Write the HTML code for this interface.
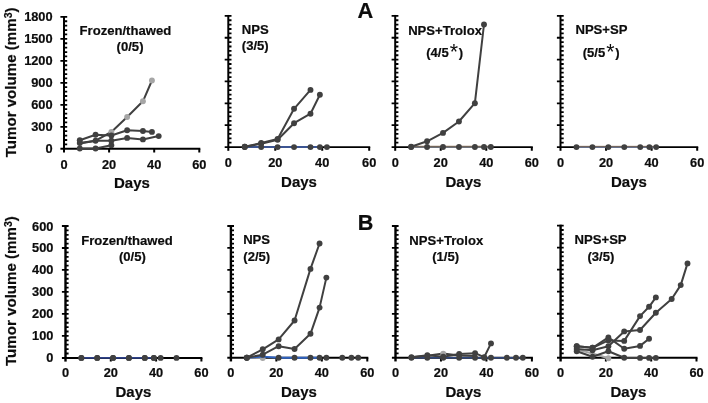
<!DOCTYPE html>
<html lang="en">
<head>
<meta charset="utf-8">
<title>Tumor volume figure</title>
<style>
html,body{margin:0;padding:0;background:#fff;}
body{width:708px;height:403px;overflow:hidden;}
svg{display:block;}
svg text{font-family:"Liberation Sans",Arial,Helvetica,sans-serif;font-weight:bold;fill:#0c0c0c;stroke:#0c0c0c;stroke-width:0.2px;}
</style>
</head>
<body>
<svg width="708" height="403" viewBox="0 0 708 403">
<rect width="708" height="403" fill="#fff"/>
<line x1="64" y1="15.95" x2="64" y2="152.5" stroke="#000" stroke-width="2.0"/>
<line x1="60.4" y1="148.8" x2="200.3" y2="148.8" stroke="#000" stroke-width="1.9"/>
<path d="M60.4 16.85H67.2M64 21.25H67.2M64 25.65H67.2M64 30.05H67.2M64 34.44H67.2M60.4 38.84H67.2M64 43.24H67.2M64 47.64H67.2M64 52.04H67.2M64 56.44H67.2M60.4 60.83H67.2M64 65.23H67.2M64 69.63H67.2M64 74.03H67.2M64 78.43H67.2M60.4 82.83H67.2M64 87.22H67.2M64 91.62H67.2M64 96.02H67.2M64 100.42H67.2M60.4 104.82H67.2M64 109.22H67.2M64 113.61H67.2M64 118.01H67.2M64 122.41H67.2M60.4 126.81H67.2M64 131.21H67.2M64 135.61H67.2M64 140H67.2M64 144.4H67.2" stroke="#000" stroke-width="1.8" fill="none"/>
<path d="M109.1 148.8V152.5M154.2 148.8V152.5M199.3 148.8V152.5" stroke="#000" stroke-width="2" fill="none"/>
<line x1="228.3" y1="14.95" x2="228.3" y2="150.8" stroke="#000" stroke-width="2.0"/>
<line x1="224.7" y1="147.1" x2="370.2" y2="147.1" stroke="#000" stroke-width="1.9"/>
<path d="M224.7 15.85H231.5M228.3 20.23H231.5M228.3 24.6H231.5M228.3 28.98H231.5M228.3 33.35H231.5M224.7 37.73H231.5M228.3 42.1H231.5M228.3 46.48H231.5M228.3 50.85H231.5M228.3 55.23H231.5M224.7 59.6H231.5M228.3 63.98H231.5M228.3 68.35H231.5M228.3 72.72H231.5M228.3 77.1H231.5M224.7 81.47H231.5M228.3 85.85H231.5M228.3 90.22H231.5M228.3 94.6H231.5M228.3 98.97H231.5M224.7 103.35H231.5M228.3 107.72H231.5M228.3 112.1H231.5M228.3 116.47H231.5M228.3 120.85H231.5M224.7 125.22H231.5M228.3 129.6H231.5M228.3 133.97H231.5M228.3 138.35H231.5M228.3 142.72H231.5" stroke="#000" stroke-width="1.8" fill="none"/>
<path d="M275.27 147.1V150.8M322.23 147.1V150.8M369.2 147.1V150.8" stroke="#000" stroke-width="2" fill="none"/>
<line x1="395.2" y1="14.95" x2="395.2" y2="150.8" stroke="#000" stroke-width="2.0"/>
<line x1="391.6" y1="147.1" x2="532.8" y2="147.1" stroke="#000" stroke-width="1.9"/>
<path d="M391.6 15.85H398.4M395.2 20.23H398.4M395.2 24.6H398.4M395.2 28.98H398.4M395.2 33.35H398.4M391.6 37.73H398.4M395.2 42.1H398.4M395.2 46.48H398.4M395.2 50.85H398.4M395.2 55.23H398.4M391.6 59.6H398.4M395.2 63.98H398.4M395.2 68.35H398.4M395.2 72.72H398.4M395.2 77.1H398.4M391.6 81.47H398.4M395.2 85.85H398.4M395.2 90.22H398.4M395.2 94.6H398.4M395.2 98.97H398.4M391.6 103.35H398.4M395.2 107.72H398.4M395.2 112.1H398.4M395.2 116.47H398.4M395.2 120.85H398.4M391.6 125.22H398.4M395.2 129.6H398.4M395.2 133.97H398.4M395.2 138.35H398.4M395.2 142.72H398.4" stroke="#000" stroke-width="1.8" fill="none"/>
<path d="M440.73 147.1V150.8M486.27 147.1V150.8M531.8 147.1V150.8" stroke="#000" stroke-width="2" fill="none"/>
<line x1="560.5" y1="14.95" x2="560.5" y2="150.8" stroke="#000" stroke-width="2.0"/>
<line x1="556.9" y1="147.1" x2="698.2" y2="147.1" stroke="#000" stroke-width="1.9"/>
<path d="M556.9 15.85H563.7M560.5 20.23H563.7M560.5 24.6H563.7M560.5 28.98H563.7M560.5 33.35H563.7M556.9 37.73H563.7M560.5 42.1H563.7M560.5 46.48H563.7M560.5 50.85H563.7M560.5 55.23H563.7M556.9 59.6H563.7M560.5 63.98H563.7M560.5 68.35H563.7M560.5 72.72H563.7M560.5 77.1H563.7M556.9 81.47H563.7M560.5 85.85H563.7M560.5 90.22H563.7M560.5 94.6H563.7M560.5 98.97H563.7M556.9 103.35H563.7M560.5 107.72H563.7M560.5 112.1H563.7M560.5 116.47H563.7M560.5 120.85H563.7M556.9 125.22H563.7M560.5 129.6H563.7M560.5 133.97H563.7M560.5 138.35H563.7M560.5 142.72H563.7" stroke="#000" stroke-width="1.8" fill="none"/>
<path d="M606.07 147.1V150.8M651.63 147.1V150.8M697.2 147.1V150.8" stroke="#000" stroke-width="2" fill="none"/>
<line x1="65.5" y1="225.1" x2="65.5" y2="361.6" stroke="#000" stroke-width="2.4"/>
<line x1="61.9" y1="357.9" x2="202.4" y2="357.9" stroke="#000" stroke-width="2.0"/>
<path d="M61.9 226H68.6M65.5 230.4H68.6M65.5 234.79H68.6M65.5 239.19H68.6M65.5 243.59H68.6M61.9 247.98H68.6M65.5 252.38H68.6M65.5 256.78H68.6M65.5 261.17H68.6M65.5 265.57H68.6M61.9 269.97H68.6M65.5 274.36H68.6M65.5 278.76H68.6M65.5 283.16H68.6M65.5 287.55H68.6M61.9 291.95H68.6M65.5 296.35H68.6M65.5 300.74H68.6M65.5 305.14H68.6M65.5 309.54H68.6M61.9 313.93H68.6M65.5 318.33H68.6M65.5 322.73H68.6M65.5 327.12H68.6M65.5 331.52H68.6M61.9 335.92H68.6M65.5 340.31H68.6M65.5 344.71H68.6M65.5 349.11H68.6M65.5 353.5H68.6" stroke="#000" stroke-width="1.8" fill="none"/>
<path d="M110.8 357.9V361.6M156.1 357.9V361.6M201.4 357.9V361.6" stroke="#000" stroke-width="2" fill="none"/>
<line x1="230.9" y1="225.1" x2="230.9" y2="361.45" stroke="#000" stroke-width="2.4"/>
<line x1="227.3" y1="357.75" x2="368.3" y2="357.75" stroke="#000" stroke-width="2.0"/>
<path d="M227.3 226H234M230.9 230.39H234M230.9 234.78H234M230.9 239.18H234M230.9 243.57H234M227.3 247.96H234M230.9 252.35H234M230.9 256.74H234M230.9 261.13H234M230.9 265.53H234M227.3 269.92H234M230.9 274.31H234M230.9 278.7H234M230.9 283.09H234M230.9 287.48H234M227.3 291.88H234M230.9 296.27H234M230.9 300.66H234M230.9 305.05H234M230.9 309.44H234M227.3 313.83H234M230.9 318.22H234M230.9 322.62H234M230.9 327.01H234M230.9 331.4H234M227.3 335.79H234M230.9 340.18H234M230.9 344.58H234M230.9 348.97H234M230.9 353.36H234" stroke="#000" stroke-width="1.8" fill="none"/>
<path d="M276.37 357.75V361.45M321.83 357.75V361.45M367.3 357.75V361.45" stroke="#000" stroke-width="2" fill="none"/>
<line x1="395.5" y1="225.1" x2="395.5" y2="361.45" stroke="#000" stroke-width="2.4"/>
<line x1="391.9" y1="357.75" x2="532.9" y2="357.75" stroke="#000" stroke-width="2.0"/>
<path d="M391.9 226H398.6M395.5 230.39H398.6M395.5 234.78H398.6M395.5 239.18H398.6M395.5 243.57H398.6M391.9 247.96H398.6M395.5 252.35H398.6M395.5 256.74H398.6M395.5 261.13H398.6M395.5 265.53H398.6M391.9 269.92H398.6M395.5 274.31H398.6M395.5 278.7H398.6M395.5 283.09H398.6M395.5 287.48H398.6M391.9 291.88H398.6M395.5 296.27H398.6M395.5 300.66H398.6M395.5 305.05H398.6M395.5 309.44H398.6M391.9 313.83H398.6M395.5 318.22H398.6M395.5 322.62H398.6M395.5 327.01H398.6M395.5 331.4H398.6M391.9 335.79H398.6M395.5 340.18H398.6M395.5 344.58H398.6M395.5 348.97H398.6M395.5 353.36H398.6" stroke="#000" stroke-width="1.8" fill="none"/>
<path d="M440.97 357.75V361.45M486.43 357.75V361.45M531.9 357.75V361.45" stroke="#000" stroke-width="2" fill="none"/>
<line x1="560.6" y1="224.7" x2="560.6" y2="361.5" stroke="#000" stroke-width="2.4"/>
<line x1="557" y1="357.8" x2="697.5" y2="357.8" stroke="#000" stroke-width="2.0"/>
<path d="M557 225.6H563.7M560.6 230.01H563.7M560.6 234.41H563.7M560.6 238.82H563.7M560.6 243.23H563.7M557 247.63H563.7M560.6 252.04H563.7M560.6 256.45H563.7M560.6 260.85H563.7M560.6 265.26H563.7M557 269.67H563.7M560.6 274.07H563.7M560.6 278.48H563.7M560.6 282.89H563.7M560.6 287.29H563.7M557 291.7H563.7M560.6 296.11H563.7M560.6 300.51H563.7M560.6 304.92H563.7M560.6 309.33H563.7M557 313.73H563.7M560.6 318.14H563.7M560.6 322.55H563.7M560.6 326.95H563.7M560.6 331.36H563.7M557 335.77H563.7M560.6 340.17H563.7M560.6 344.58H563.7M560.6 348.99H563.7M560.6 353.39H563.7" stroke="#000" stroke-width="1.8" fill="none"/>
<path d="M605.9 357.8V361.5M651.2 357.8V361.5M696.5 357.8V361.5" stroke="#000" stroke-width="2" fill="none"/>
<text x="52.6" y="21.45" font-size="12.8" text-anchor="end">1800</text>
<text x="52.6" y="43.44" font-size="12.8" text-anchor="end">1500</text>
<text x="52.6" y="65.43" font-size="12.8" text-anchor="end">1200</text>
<text x="52.6" y="87.43" font-size="12.8" text-anchor="end">900</text>
<text x="52.6" y="109.42" font-size="12.8" text-anchor="end">600</text>
<text x="52.6" y="131.41" font-size="12.8" text-anchor="end">300</text>
<text x="52.6" y="153.4" font-size="12.8" text-anchor="end">0</text>
<text x="53.4" y="230.5" font-size="12.8" text-anchor="end">600</text>
<text x="53.4" y="252.48" font-size="12.8" text-anchor="end">500</text>
<text x="53.4" y="274.47" font-size="12.8" text-anchor="end">400</text>
<text x="53.4" y="296.45" font-size="12.8" text-anchor="end">300</text>
<text x="53.4" y="318.43" font-size="12.8" text-anchor="end">200</text>
<text x="53.4" y="340.42" font-size="12.8" text-anchor="end">100</text>
<text x="53.4" y="362.4" font-size="12.8" text-anchor="end">0</text>
<text x="64" y="168.5" font-size="12.8" text-anchor="middle">0</text>
<text x="109.1" y="168.5" font-size="12.8" text-anchor="middle">20</text>
<text x="154.2" y="168.5" font-size="12.8" text-anchor="middle">40</text>
<text x="199.3" y="168.5" font-size="12.8" text-anchor="middle">60</text>
<text x="228.3" y="166.7" font-size="12.8" text-anchor="middle">0</text>
<text x="275.27" y="166.7" font-size="12.8" text-anchor="middle">20</text>
<text x="322.23" y="166.7" font-size="12.8" text-anchor="middle">40</text>
<text x="369.2" y="166.7" font-size="12.8" text-anchor="middle">60</text>
<text x="395.2" y="166.7" font-size="12.8" text-anchor="middle">0</text>
<text x="440.73" y="166.7" font-size="12.8" text-anchor="middle">20</text>
<text x="486.27" y="166.7" font-size="12.8" text-anchor="middle">40</text>
<text x="531.8" y="166.7" font-size="12.8" text-anchor="middle">60</text>
<text x="560.5" y="166.7" font-size="12.8" text-anchor="middle">0</text>
<text x="606.07" y="166.7" font-size="12.8" text-anchor="middle">20</text>
<text x="651.63" y="166.7" font-size="12.8" text-anchor="middle">40</text>
<text x="697.2" y="166.7" font-size="12.8" text-anchor="middle">60</text>
<text x="65.5" y="377.3" font-size="12.8" text-anchor="middle">0</text>
<text x="110.8" y="377.3" font-size="12.8" text-anchor="middle">20</text>
<text x="156.1" y="377.3" font-size="12.8" text-anchor="middle">40</text>
<text x="201.4" y="377.3" font-size="12.8" text-anchor="middle">60</text>
<text x="230.9" y="377.3" font-size="12.8" text-anchor="middle">0</text>
<text x="276.37" y="377.3" font-size="12.8" text-anchor="middle">20</text>
<text x="321.83" y="377.3" font-size="12.8" text-anchor="middle">40</text>
<text x="367.3" y="377.3" font-size="12.8" text-anchor="middle">60</text>
<text x="395.5" y="377.3" font-size="12.8" text-anchor="middle">0</text>
<text x="440.97" y="377.3" font-size="12.8" text-anchor="middle">20</text>
<text x="486.43" y="377.3" font-size="12.8" text-anchor="middle">40</text>
<text x="531.9" y="377.3" font-size="12.8" text-anchor="middle">60</text>
<text x="560.6" y="377.3" font-size="12.8" text-anchor="middle">0</text>
<text x="605.9" y="377.3" font-size="12.8" text-anchor="middle">20</text>
<text x="651.2" y="377.3" font-size="12.8" text-anchor="middle">40</text>
<text x="696.5" y="377.3" font-size="12.8" text-anchor="middle">60</text>
<text x="131.9" y="188.2" font-size="15" text-anchor="middle">Days</text>
<text x="299" y="187.1" font-size="15" text-anchor="middle">Days</text>
<text x="463.4" y="187.1" font-size="15" text-anchor="middle">Days</text>
<text x="628.9" y="187.1" font-size="15" text-anchor="middle">Days</text>
<text x="133.4" y="397.3" font-size="15" text-anchor="middle">Days</text>
<text x="298.9" y="397.3" font-size="15" text-anchor="middle">Days</text>
<text x="463.4" y="397.3" font-size="15" text-anchor="middle">Days</text>
<text x="628.4" y="397.3" font-size="15" text-anchor="middle">Days</text>
<text transform="translate(15.8,157.3) rotate(-90)" font-size="15.1">Tumor volume (mm<tspan font-size="10.5" dy="-4.2">3</tspan><tspan dy="4.2">)</tspan></text>
<text transform="translate(15.8,366) rotate(-90)" font-size="15.1">Tumor volume (mm<tspan font-size="10.5" dy="-4.2">3</tspan><tspan dy="4.2">)</tspan></text>
<text x="357.5" y="18" font-size="21.8" text-anchor="start" stroke="#111" stroke-width="0.5">A</text>
<text x="357.8" y="229.9" font-size="21.6" text-anchor="start" stroke="#111" stroke-width="0.4">B</text>
<text x="125.4" y="34.8" font-size="13.1" text-anchor="middle">Frozen/thawed</text>
<text x="130.05" y="51.1" font-size="13.1" text-anchor="middle">(0/5)</text>
<text x="255.25" y="33.7" font-size="13.1" text-anchor="middle">NPS</text>
<text x="255.25" y="50.3" font-size="13.1" text-anchor="middle">(3/5)</text>
<text x="445.1" y="34.5" font-size="13.1" text-anchor="middle">NPS+Trolox</text>
<text x="601.45" y="34" font-size="13.1" text-anchor="middle">NPS+SP</text>
<text x="127" y="244.5" font-size="13.1" text-anchor="middle">Frozen/thawed</text>
<text x="132.35" y="260.6" font-size="13.1" text-anchor="middle">(0/5)</text>
<text x="256.6" y="244.2" font-size="13.1" text-anchor="middle">NPS</text>
<text x="256.75" y="260.6" font-size="13.1" text-anchor="middle">(2/5)</text>
<text x="446.25" y="244.5" font-size="13.1" text-anchor="middle">NPS+Trolox</text>
<text x="445.65" y="261.1" font-size="13.1" text-anchor="middle">(1/5)</text>
<text x="600.6" y="244.2" font-size="13.1" text-anchor="middle">NPS+SP</text>
<text x="600.85" y="261.1" font-size="13.1" text-anchor="middle">(3/5)</text>
<text x="426.2" y="56.5" font-size="13.1">(4/5<tspan font-size="21.3" font-weight="normal" stroke="none" dy="2" dx="1.0">*</tspan><tspan dy="-2" dx="0.8">)</tspan></text>
<text x="582.7" y="56.5" font-size="13.1">(5/5<tspan font-size="21.3" font-weight="normal" stroke="none" dy="2" dx="1.0">*</tspan><tspan dy="-2" dx="0.8">)</tspan></text>
<polyline points="79.78,143.5 95.57,140.7 111.36,132 127.14,117 142.93,101.3 151.94,80.5" fill="none" stroke="#404040" stroke-width="2.0" stroke-linejoin="round" stroke-linecap="round"/>
<circle cx="111.36" cy="132" r="2.95" fill="#a6a6a6"/>
<circle cx="127.14" cy="117" r="2.95" fill="#a6a6a6"/>
<circle cx="142.93" cy="101.3" r="2.95" fill="#a6a6a6"/>
<circle cx="151.94" cy="80.5" r="2.95" fill="#a6a6a6"/>
<polyline points="79.78,148.5 95.57,148.5 111.36,145.2" fill="none" stroke="#404040" stroke-width="2.0" stroke-linejoin="round" stroke-linecap="round"/>
<circle cx="79.78" cy="148.5" r="2.95" fill="#404040"/>
<circle cx="95.57" cy="148.5" r="2.95" fill="#404040"/>
<circle cx="111.36" cy="145.2" r="2.95" fill="#404040"/>
<polyline points="79.78,143 95.57,140.7 111.36,140.7 127.14,137.9 142.93,139.4 158.71,136.1" fill="none" stroke="#404040" stroke-width="2.0" stroke-linejoin="round" stroke-linecap="round"/>
<circle cx="79.78" cy="143" r="2.95" fill="#404040"/>
<circle cx="95.57" cy="140.7" r="2.95" fill="#404040"/>
<circle cx="111.36" cy="140.7" r="2.95" fill="#404040"/>
<circle cx="127.14" cy="137.9" r="2.95" fill="#404040"/>
<circle cx="142.93" cy="139.4" r="2.95" fill="#404040"/>
<circle cx="158.71" cy="136.1" r="2.95" fill="#404040"/>
<polyline points="79.78,140.2 95.57,134.8 111.36,135.5 127.14,130.3 142.93,131 151.94,131.9" fill="none" stroke="#404040" stroke-width="2.0" stroke-linejoin="round" stroke-linecap="round"/>
<circle cx="79.78" cy="140.2" r="2.95" fill="#404040"/>
<circle cx="95.57" cy="134.8" r="2.95" fill="#404040"/>
<circle cx="111.36" cy="135.5" r="2.95" fill="#404040"/>
<circle cx="127.14" cy="130.3" r="2.95" fill="#404040"/>
<circle cx="142.93" cy="131" r="2.95" fill="#404040"/>
<circle cx="151.94" cy="131.9" r="2.95" fill="#404040"/>
<polyline points="244.74,147.1 261.18,147.1 277.62,147.1 294.05,147.1 310.49,147.1 319.88,147.1" fill="none" stroke="#3c5592" stroke-width="2.0" stroke-linejoin="round" stroke-linecap="round"/>
<polyline points="244.74,147.1 261.18,147.1 277.62,147.1 294.05,147.1 310.49,147.1 319.88,147.1 326.93,147.1" fill="none" stroke="none" stroke-width="0" stroke-linejoin="round" stroke-linecap="round"/>
<circle cx="244.74" cy="147.1" r="2.95" fill="#404040"/>
<circle cx="261.18" cy="147.1" r="2.95" fill="#404040"/>
<circle cx="277.62" cy="147.1" r="2.95" fill="#404040"/>
<circle cx="294.05" cy="147.1" r="2.95" fill="#404040"/>
<circle cx="310.49" cy="147.1" r="2.95" fill="#404040"/>
<circle cx="319.88" cy="147.1" r="2.95" fill="#404040"/>
<circle cx="326.93" cy="147.1" r="2.95" fill="#404040"/>
<polyline points="244.74,146.8 261.18,143.7 277.62,139.7 294.05,123.2 310.49,113.7 319.88,94.7" fill="none" stroke="#404040" stroke-width="2.0" stroke-linejoin="round" stroke-linecap="round"/>
<circle cx="244.74" cy="146.8" r="2.95" fill="#404040"/>
<circle cx="261.18" cy="143.7" r="2.95" fill="#404040"/>
<circle cx="277.62" cy="139.7" r="2.95" fill="#404040"/>
<circle cx="294.05" cy="123.2" r="2.95" fill="#404040"/>
<circle cx="310.49" cy="113.7" r="2.95" fill="#404040"/>
<circle cx="319.88" cy="94.7" r="2.95" fill="#404040"/>
<polyline points="244.74,146.8 261.18,143 277.62,139 294.05,108.8 310.49,89.9" fill="none" stroke="#404040" stroke-width="2.0" stroke-linejoin="round" stroke-linecap="round"/>
<circle cx="244.74" cy="146.8" r="2.95" fill="#404040"/>
<circle cx="261.18" cy="143" r="2.95" fill="#404040"/>
<circle cx="277.62" cy="139" r="2.95" fill="#404040"/>
<circle cx="294.05" cy="108.8" r="2.95" fill="#404040"/>
<circle cx="310.49" cy="89.9" r="2.95" fill="#404040"/>
<polyline points="411.14,147.1 490.82,147.1" fill="none" stroke="#6d717a" stroke-width="1.7" stroke-linejoin="round" stroke-linecap="round"/>
<polyline points="411.14,146.2 490.82,146.2" fill="none" stroke="#86694c" stroke-width="0.7" stroke-linejoin="round" stroke-linecap="round"/>
<polyline points="411.14,147 427.07,147 443.01,147 458.95,147 474.88,147 483.99,147 490.82,147" fill="none" stroke="none" stroke-width="0" stroke-linejoin="round" stroke-linecap="round"/>
<circle cx="411.14" cy="147" r="2.95" fill="#404040"/>
<circle cx="427.07" cy="147" r="2.95" fill="#404040"/>
<circle cx="443.01" cy="147" r="2.95" fill="#404040"/>
<circle cx="458.95" cy="147" r="2.95" fill="#404040"/>
<circle cx="474.88" cy="147" r="2.95" fill="#404040"/>
<circle cx="483.99" cy="147" r="2.95" fill="#404040"/>
<circle cx="490.82" cy="147" r="2.95" fill="#404040"/>
<polyline points="411.14,146.8 427.07,141.3 443.01,132.9 458.95,121.5 474.88,103.2 483.99,24.5" fill="none" stroke="#404040" stroke-width="2.0" stroke-linejoin="round" stroke-linecap="round"/>
<circle cx="411.14" cy="146.8" r="2.95" fill="#404040"/>
<circle cx="427.07" cy="141.3" r="2.95" fill="#404040"/>
<circle cx="443.01" cy="132.9" r="2.95" fill="#404040"/>
<circle cx="458.95" cy="121.5" r="2.95" fill="#404040"/>
<circle cx="474.88" cy="103.2" r="2.95" fill="#404040"/>
<circle cx="483.99" cy="24.5" r="2.95" fill="#404040"/>
<polyline points="576.45,147.2 656.19,147.2" fill="none" stroke="#66708a" stroke-width="1.7" stroke-linejoin="round" stroke-linecap="round"/>
<polyline points="576.45,146.3 656.19,146.3" fill="none" stroke="#86694c" stroke-width="0.7" stroke-linejoin="round" stroke-linecap="round"/>
<polyline points="576.45,147.1 592.4,147.1 608.35,147.1 624.29,147.1 640.24,147.1 649.36,147.1 656.19,147.1" fill="none" stroke="none" stroke-width="0" stroke-linejoin="round" stroke-linecap="round"/>
<circle cx="576.45" cy="147.1" r="2.95" fill="#404040"/>
<circle cx="592.4" cy="147.1" r="2.95" fill="#404040"/>
<circle cx="608.35" cy="147.1" r="2.95" fill="#404040"/>
<circle cx="624.29" cy="147.1" r="2.95" fill="#404040"/>
<circle cx="640.24" cy="147.1" r="2.95" fill="#404040"/>
<circle cx="649.36" cy="147.1" r="2.95" fill="#404040"/>
<circle cx="656.19" cy="147.1" r="2.95" fill="#404040"/>
<polyline points="81.36,357.9 97.21,357.9 113.06,357.9 128.92,357.9 144.78,357.9 153.84,357.9" fill="none" stroke="#2f4288" stroke-width="1.6" stroke-linejoin="round" stroke-linecap="round"/>
<circle cx="81.36" cy="357.9" r="2.95" fill="#404040"/>
<circle cx="97.21" cy="357.9" r="2.95" fill="#404040"/>
<circle cx="113.06" cy="357.9" r="2.95" fill="#404040"/>
<circle cx="128.92" cy="357.9" r="2.95" fill="#404040"/>
<circle cx="144.78" cy="357.9" r="2.95" fill="#404040"/>
<circle cx="153.84" cy="357.9" r="2.95" fill="#404040"/>
<polyline points="81.36,357.9 97.21,357.9 113.06,357.9 128.92,357.9 144.78,357.9 153.84,357.9 160.63,357.9 176.49,357.9" fill="none" stroke="none" stroke-width="0" stroke-linejoin="round" stroke-linecap="round"/>
<circle cx="81.36" cy="357.9" r="2.95" fill="#404040"/>
<circle cx="97.21" cy="357.9" r="2.95" fill="#404040"/>
<circle cx="113.06" cy="357.9" r="2.95" fill="#404040"/>
<circle cx="128.92" cy="357.9" r="2.95" fill="#404040"/>
<circle cx="144.78" cy="357.9" r="2.95" fill="#404040"/>
<circle cx="153.84" cy="357.9" r="2.95" fill="#404040"/>
<circle cx="160.63" cy="357.9" r="2.95" fill="#404040"/>
<circle cx="176.49" cy="357.9" r="2.95" fill="#404040"/>
<polyline points="246.81,357.75 262.73,357.95" fill="none" stroke="#a6a6a6" stroke-width="2.0" stroke-linejoin="round" stroke-linecap="round"/>
<circle cx="262.73" cy="357.95" r="2.95" fill="#a6a6a6"/>
<polyline points="246.81,357.75 262.73,356.6 278.64,357.75 294.55,357.75 310.47,357.75 319.56,357.75" fill="none" stroke="#2f63c2" stroke-width="1.8" stroke-linejoin="round" stroke-linecap="round"/>
<circle cx="246.81" cy="357.75" r="2.95" fill="#404040"/>
<circle cx="278.64" cy="357.75" r="2.95" fill="#404040"/>
<circle cx="294.55" cy="357.75" r="2.95" fill="#404040"/>
<circle cx="310.47" cy="357.75" r="2.95" fill="#404040"/>
<circle cx="319.56" cy="357.75" r="2.95" fill="#404040"/>
<polyline points="326.38,357.75 342.29,357.75 351.39,357.75 358.21,357.75" fill="none" stroke="none" stroke-width="0" stroke-linejoin="round" stroke-linecap="round"/>
<circle cx="326.38" cy="357.75" r="2.95" fill="#404040"/>
<circle cx="342.29" cy="357.75" r="2.95" fill="#404040"/>
<circle cx="351.39" cy="357.75" r="2.95" fill="#404040"/>
<circle cx="358.21" cy="357.75" r="2.95" fill="#404040"/>
<polyline points="246.81,357.75 262.73,354.7 278.64,346.2 294.55,349 310.47,333.8 319.56,307.6 326.38,277.6" fill="none" stroke="#404040" stroke-width="2.0" stroke-linejoin="round" stroke-linecap="round"/>
<circle cx="246.81" cy="357.75" r="2.95" fill="#404040"/>
<circle cx="262.73" cy="354.7" r="2.95" fill="#404040"/>
<circle cx="278.64" cy="346.2" r="2.95" fill="#404040"/>
<circle cx="294.55" cy="349" r="2.95" fill="#404040"/>
<circle cx="310.47" cy="333.8" r="2.95" fill="#404040"/>
<circle cx="319.56" cy="307.6" r="2.95" fill="#404040"/>
<circle cx="326.38" cy="277.6" r="2.95" fill="#404040"/>
<polyline points="246.81,357.75 262.73,349.3 278.64,339.4 294.55,320.5 310.47,268.9 319.56,243.5" fill="none" stroke="#404040" stroke-width="2.0" stroke-linejoin="round" stroke-linecap="round"/>
<circle cx="246.81" cy="357.75" r="2.95" fill="#404040"/>
<circle cx="262.73" cy="349.3" r="2.95" fill="#404040"/>
<circle cx="278.64" cy="339.4" r="2.95" fill="#404040"/>
<circle cx="294.55" cy="320.5" r="2.95" fill="#404040"/>
<circle cx="310.47" cy="268.9" r="2.95" fill="#404040"/>
<circle cx="319.56" cy="243.5" r="2.95" fill="#404040"/>
<polyline points="411.41,357.8 427.33,357.8 443.24,357.8 459.15,357.8 475.07,357.8 484.16,357.8 490.98,357.8 506.89,357.8 515.99,357.8 522.81,357.8" fill="none" stroke="#2e467e" stroke-width="1.6" stroke-linejoin="round" stroke-linecap="round"/>
<circle cx="411.41" cy="357.8" r="2.95" fill="#404040"/>
<circle cx="427.33" cy="357.8" r="2.95" fill="#404040"/>
<circle cx="443.24" cy="357.8" r="2.95" fill="#404040"/>
<circle cx="459.15" cy="357.8" r="2.95" fill="#404040"/>
<circle cx="475.07" cy="357.8" r="2.95" fill="#404040"/>
<circle cx="484.16" cy="357.8" r="2.95" fill="#404040"/>
<circle cx="490.98" cy="357.8" r="2.95" fill="#404040"/>
<circle cx="506.89" cy="357.8" r="2.95" fill="#404040"/>
<circle cx="515.99" cy="357.8" r="2.95" fill="#404040"/>
<circle cx="522.81" cy="357.8" r="2.95" fill="#404040"/>
<polyline points="411.41,357.2 427.33,355.8 443.24,353.6 459.15,355.5 475.07,356" fill="none" stroke="#404040" stroke-width="2.0" stroke-linejoin="round" stroke-linecap="round"/>
<circle cx="443.24" cy="353.6" r="2.95" fill="#a6a6a6"/>
<polyline points="411.41,357.2 427.33,355.3 443.24,356.8 459.15,354 475.07,353.2 484.16,357.2 490.98,343.4" fill="none" stroke="#404040" stroke-width="2.0" stroke-linejoin="round" stroke-linecap="round"/>
<circle cx="411.41" cy="357.2" r="2.95" fill="#404040"/>
<circle cx="427.33" cy="355.3" r="2.95" fill="#404040"/>
<circle cx="443.24" cy="356.8" r="2.95" fill="#404040"/>
<circle cx="459.15" cy="354" r="2.95" fill="#404040"/>
<circle cx="475.07" cy="353.2" r="2.95" fill="#404040"/>
<circle cx="484.16" cy="357.2" r="2.95" fill="#404040"/>
<circle cx="490.98" cy="343.4" r="2.95" fill="#404040"/>
<polyline points="576.73,349.5 592.55,353.5 608.38,358.2" fill="none" stroke="#a6a6a6" stroke-width="2.0" stroke-linejoin="round" stroke-linecap="round"/>
<circle cx="608.38" cy="358.2" r="2.95" fill="#a6a6a6"/>
<polyline points="576.73,351.3 592.55,356.7 608.38,351.3 624.2,357.7 640.03,357.9 649.07,357.9 655.86,357.9" fill="none" stroke="#404040" stroke-width="2.0" stroke-linejoin="round" stroke-linecap="round"/>
<circle cx="576.73" cy="351.3" r="2.95" fill="#404040"/>
<circle cx="592.55" cy="356.7" r="2.95" fill="#404040"/>
<circle cx="608.38" cy="351.3" r="2.95" fill="#404040"/>
<circle cx="624.2" cy="357.7" r="2.95" fill="#404040"/>
<circle cx="640.03" cy="357.9" r="2.95" fill="#404040"/>
<circle cx="649.07" cy="357.9" r="2.95" fill="#404040"/>
<circle cx="655.86" cy="357.9" r="2.95" fill="#404040"/>
<polyline points="576.73,346.3 592.55,347.8 608.38,337.4 624.2,348.8 640.03,345.9 649.07,338.8" fill="none" stroke="#404040" stroke-width="2.0" stroke-linejoin="round" stroke-linecap="round"/>
<circle cx="576.73" cy="346.3" r="2.95" fill="#404040"/>
<circle cx="592.55" cy="347.8" r="2.95" fill="#404040"/>
<circle cx="608.38" cy="337.4" r="2.95" fill="#404040"/>
<circle cx="624.2" cy="348.8" r="2.95" fill="#404040"/>
<circle cx="640.03" cy="345.9" r="2.95" fill="#404040"/>
<circle cx="649.07" cy="338.8" r="2.95" fill="#404040"/>
<polyline points="576.73,346.3 592.55,347.8 608.38,340.4 624.2,340.9 640.03,316.1 649.07,306.8 655.86,297.4" fill="none" stroke="#404040" stroke-width="2.0" stroke-linejoin="round" stroke-linecap="round"/>
<circle cx="576.73" cy="346.3" r="2.95" fill="#404040"/>
<circle cx="592.55" cy="347.8" r="2.95" fill="#404040"/>
<circle cx="608.38" cy="340.4" r="2.95" fill="#404040"/>
<circle cx="624.2" cy="340.9" r="2.95" fill="#404040"/>
<circle cx="640.03" cy="316.1" r="2.95" fill="#404040"/>
<circle cx="649.07" cy="306.8" r="2.95" fill="#404040"/>
<circle cx="655.86" cy="297.4" r="2.95" fill="#404040"/>
<polyline points="576.73,349 592.55,350.3 608.38,346.3 624.2,331.4 640.03,330 655.86,312.7 671.68,299 680.72,285.1 687.51,263.4" fill="none" stroke="#404040" stroke-width="2.0" stroke-linejoin="round" stroke-linecap="round"/>
<circle cx="576.73" cy="349" r="2.95" fill="#404040"/>
<circle cx="592.55" cy="350.3" r="2.95" fill="#404040"/>
<circle cx="608.38" cy="346.3" r="2.95" fill="#404040"/>
<circle cx="624.2" cy="331.4" r="2.95" fill="#404040"/>
<circle cx="640.03" cy="330" r="2.95" fill="#404040"/>
<circle cx="655.86" cy="312.7" r="2.95" fill="#404040"/>
<circle cx="671.68" cy="299" r="2.95" fill="#404040"/>
<circle cx="680.72" cy="285.1" r="2.95" fill="#404040"/>
<circle cx="687.51" cy="263.4" r="2.95" fill="#404040"/>
</svg>
</body>
</html>
